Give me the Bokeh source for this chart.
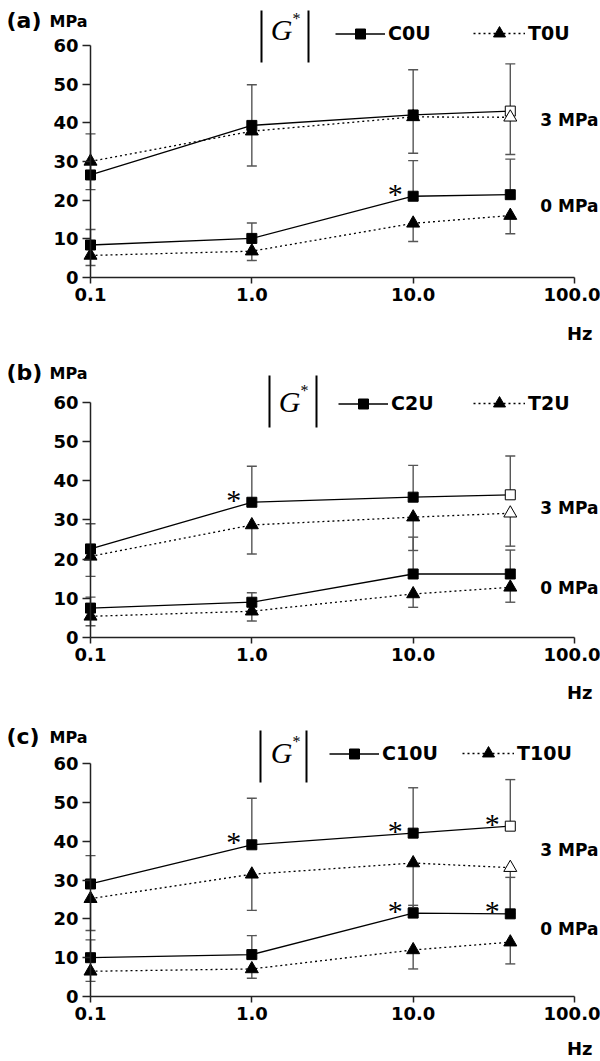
from bokeh.plotting import figure
from bokeh.models import (Label, Legend, LegendItem, BoxAnnotation, FixedTicker,
                          NumeralTickFormatter, Range1d)
from bokeh.layouts import column
from bokeh.embed import file_html
from bokeh.resources import INLINE
from bokeh.core.properties import value

# ---------------- data ----------------
freq = [0.1, 1.0, 10.0, 40.0]
x_ticks = [0.1, 1.0, 10.0, 100.0]
y_ticks = [0, 10, 20, 30, 40, 50, 60]

# panel (a)
a_names = ["C0U", "T0U"]
a_c3 = [26.5, 39.3, 42.0, 43.0]
a_c3_err = [10.6, 10.5, 11.7, 12.2]
a_t3 = [30.0, 37.8, 41.5, 41.4]
a_t3_err = [7.3, 9.0, 9.4, 9.6]
a_c0 = [8.4, 10.1, 21.0, 21.4]
a_c0_err = [4.0, 4.0, 9.2, 9.2]
a_t0 = [5.7, 6.8, 14.0, 16.0]
a_t0_err = [2.6, 2.4, 4.7, 4.7]
a_stars = [("c0", 2)]

# panel (b)
b_names = ["C2U", "T2U"]
b_c3 = [22.6, 34.5, 35.8, 36.4]
b_c3_err = [6.4, 9.2, 8.1, 9.9]
b_t3 = [20.7, 28.7, 30.7, 31.7]
b_t3_err = [5.1, 7.4, 8.5, 8.4]
b_c0 = [7.5, 9.0, 16.2, 16.2]
b_c0_err = [2.8, 2.4, 9.4, 6.1]
b_t0 = [5.4, 6.7, 11.1, 12.8]
b_t0_err = [2.4, 2.5, 3.4, 3.8]
b_stars = [("c3", 1)]

# panel (c)
c_names = ["C10U", "T10U"]
c_c3 = [29.0, 39.1, 42.1, 43.9]
c_c3_err = [7.3, 12.0, 11.7, 12.0]
c_t3 = [25.2, 31.5, 34.4, 33.2]
c_t3_err = [8.2, 9.3, 11.5, 11.8]
c_c0 = [10.0, 10.8, 21.5, 21.3]
c_c0_err = [4.6, 4.9, 2.0, 9.4]
c_t0 = [6.5, 7.1, 12.0, 14.0]
c_t0_err = [2.6, 2.4, 4.9, 5.6]
c_stars = [("c3", 1), ("c3", 2), ("c3", 3), ("c0", 2), ("c0", 3)]

# ---------------- style / layout ----------------
FONT = "DejaVu Sans"
SERIF = "Liberation Serif"
AXIS_X = 90          # page px of the y axis
DEC = 161.33         # px per decade
W = 600
ERRC = "#555555"


def make_panel(tag, names, c3, c3e, t3, t3e, c0, c0e, t0, t0e, stars, g):
    top, zero, ppu, h = g["top"], g["zero"], g["ppu"], g["h"]

    def xd(px):
        return 10 ** (-1 + (px - AXIS_X) / DEC)

    def yd(py):
        return (zero - py) / ppu

    p = figure(width=W, height=h, x_axis_type="log",
               x_range=Range1d(xd(0), xd(W)), y_range=Range1d(yd(top + h), yd(top)),
               output_backend="svg", toolbar_location=None,
               min_border_left=0, min_border_right=0,
               min_border_top=0, min_border_bottom=0)
    p.outline_line_color = None
    p.xgrid.visible = False
    p.ygrid.visible = False
    p.background_fill_color = "white"
    p.border_fill_color = "white"

    for ax in (p.xaxis[0], p.yaxis[0]):
        ax.axis_line_color = "#222222"
        ax.axis_line_width = 1.5
        ax.major_tick_line_color = "#222222"
        ax.major_tick_line_width = 1.5
        ax.major_tick_in = 0
        ax.minor_tick_line_color = None
        ax.major_label_text_font = FONT
        ax.major_label_text_font_style = "bold"
        ax.major_label_text_font_size = "18px"
        ax.major_label_text_color = "black"
    p.xaxis.ticker = FixedTicker(ticks=x_ticks)
    p.xaxis.formatter = NumeralTickFormatter(format="0.0")
    p.xaxis.bounds = (x_ticks[0], x_ticks[-1])
    p.xaxis.fixed_location = 0
    p.xaxis.major_tick_out = 6
    p.xaxis.major_label_standoff = 4
    p.yaxis.ticker = FixedTicker(ticks=y_ticks)
    p.yaxis.bounds = (y_ticks[0], y_ticks[-1])
    p.yaxis.fixed_location = x_ticks[0]
    p.yaxis.major_tick_out = 8
    p.yaxis.major_label_standoff = 4

    # error bars
    for vals, errs, sgn in ((c3, c3e, 1), (t3, t3e, -1), (c0, c0e, 1), (t0, t0e, -1)):
        ends = [v + sgn * e for v, e in zip(vals, errs)]
        p.segment(x0=freq, y0=vals, x1=freq, y1=ends, line_color=ERRC, line_width=1.4)
        p.scatter(x=freq, y=ends, marker="dash", size=10, line_color=ERRC, line_width=1.4)

    # lines
    p.line(freq, c3, line_color="black", line_width=1.3)
    p.line(freq, t3, line_color="black", line_width=1.3, line_dash="2 3")
    lc0 = p.line(freq, c0, line_color="black", line_width=1.3)
    lt0 = p.line(freq, t0, line_color="black", line_width=1.3, line_dash="2 3")

    # markers (3 MPa series: last point hollow)
    p.scatter(freq[:-1], c3[:-1], marker="square", size=10, fill_color="black", line_color="black")
    p.scatter(freq[-1:], c3[-1:], marker="square", size=10, fill_color="white", line_color="black")
    p.scatter(freq[:-1], t3[:-1], marker="triangle", size=13, fill_color="black", line_color="black")
    p.scatter(freq[-1:], t3[-1:], marker="triangle", size=13, fill_color="white", line_color="black")
    sc0 = p.scatter(freq, c0, marker="square", size=10, fill_color="black", line_color="black")
    st0 = p.scatter(freq, t0, marker="triangle", size=13, fill_color="black", line_color="black")

    # significance stars
    series = {"c3": c3, "t3": t3, "c0": c0, "t0": t0}
    sx = [freq[i] for _, i in stars]
    sy = [series[k][i] for k, i in stars]
    p.text(x=sx, y=sy, text=["*"] * len(sx), text_font=value(SERIF), text_font_size="30px",
           x_offset=-18, y_offset=-3, text_align="center", text_baseline="alphabetic",
           text_color="black")

    # legends (one item each, fixed place)
    for item_label, rs, lx, gw, gh in ((names[0], [lc0, sc0], g["leg_c"], 50, 25),
                                      (names[1], [lt0, st0], g["leg_t"], 52, 30)):
        leg = Legend(items=[LegendItem(label=item_label, renderers=rs)],
                     location=(lx, top + h - (g["leg_y"] + gh / 2)),
                     orientation="horizontal", glyph_width=gw, glyph_height=gh,
                     label_height=gh, label_standoff=3, padding=0, margin=0,
                     border_line_color=None, background_fill_alpha=0,
                     label_text_font=FONT, label_text_font_style="bold",
                     label_text_font_size="19px", label_text_color="black")
        p.add_layout(leg)

    # |G*| box
    for bx in g["bars"]:
        p.add_layout(BoxAnnotation(left=xd(bx - 1), right=xd(bx + 1),
                                   top=yd(g["bar_top"]), bottom=yd(g["bar_top"] + 52),
                                   fill_color="black", fill_alpha=1, line_alpha=0))
    p.add_layout(Label(x=xd(g["gx"]), y=yd(g["gy"]), text="G", text_font=SERIF,
                       text_font_style="italic", text_font_size="30px", text_color="black",
                       text_align="center", text_baseline="middle"))
    p.add_layout(Label(x=xd(g["gx"] + 15), y=yd(g["gy"] - 11), text="*", text_font=SERIF,
                       text_font_size="16px", text_color="black",
                       text_align="center", text_baseline="middle"))

    # texts
    def lab(px, py, txt, size, align="left"):
        p.add_layout(Label(x=xd(px), y=yd(py), text=txt, text_font=FONT,
                           text_font_style="bold", text_font_size=size,
                           text_align=align, text_baseline="middle", text_color="black"))

    lab(6, g["tag_y"], tag, "22px")
    lab(49, g["tag_y"] + 1, "MPa", "16px")
    lab(598, g["l3_y"], "3 MPa", "17px", "right")
    lab(598, g["l0_y"], "0 MPa", "17px", "right")
    lab(592, g["hz_y"], "Hz", "18px", "right")
    return p


pa = make_panel("(a)", a_names, a_c3, a_c3_err, a_t3, a_t3_err, a_c0, a_c0_err,
                a_t0, a_t0_err, a_stars,
                dict(top=0, h=355, zero=277, ppu=3.87, leg_c=335, leg_t=473, leg_y=33,
                     bars=(261, 308), bar_top=10, gx=281, gy=29, tag_y=20,
                     l3_y=119, l0_y=205, hz_y=333))
pb = make_panel("(b)", b_names, b_c3, b_c3_err, b_t3, b_t3_err, b_c0, b_c0_err,
                b_t0, b_t0_err, b_stars,
                dict(top=355, h=360, zero=637, ppu=3.92, leg_c=338, leg_t=473, leg_y=403,
                     bars=(269, 316), bar_top=375, gx=289, gy=401, tag_y=372,
                     l3_y=507, l0_y=587, hz_y=692))
pc = make_panel("(c)", c_names, c_c3, c_c3_err, c_t3, c_t3_err, c_c0, c_c0_err,
                c_t0, c_t0_err, c_stars,
                dict(top=715, h=346, zero=996, ppu=3.88, leg_c=329, leg_t=462, leg_y=753,
                     bars=(260, 306), bar_top=730, gx=281, gy=752, tag_y=736,
                     l3_y=849, l0_y=928, hz_y=1048))

layout = column(pa, pb, pc, spacing=0)
open("out.html", "w").write(file_html(layout, INLINE))
